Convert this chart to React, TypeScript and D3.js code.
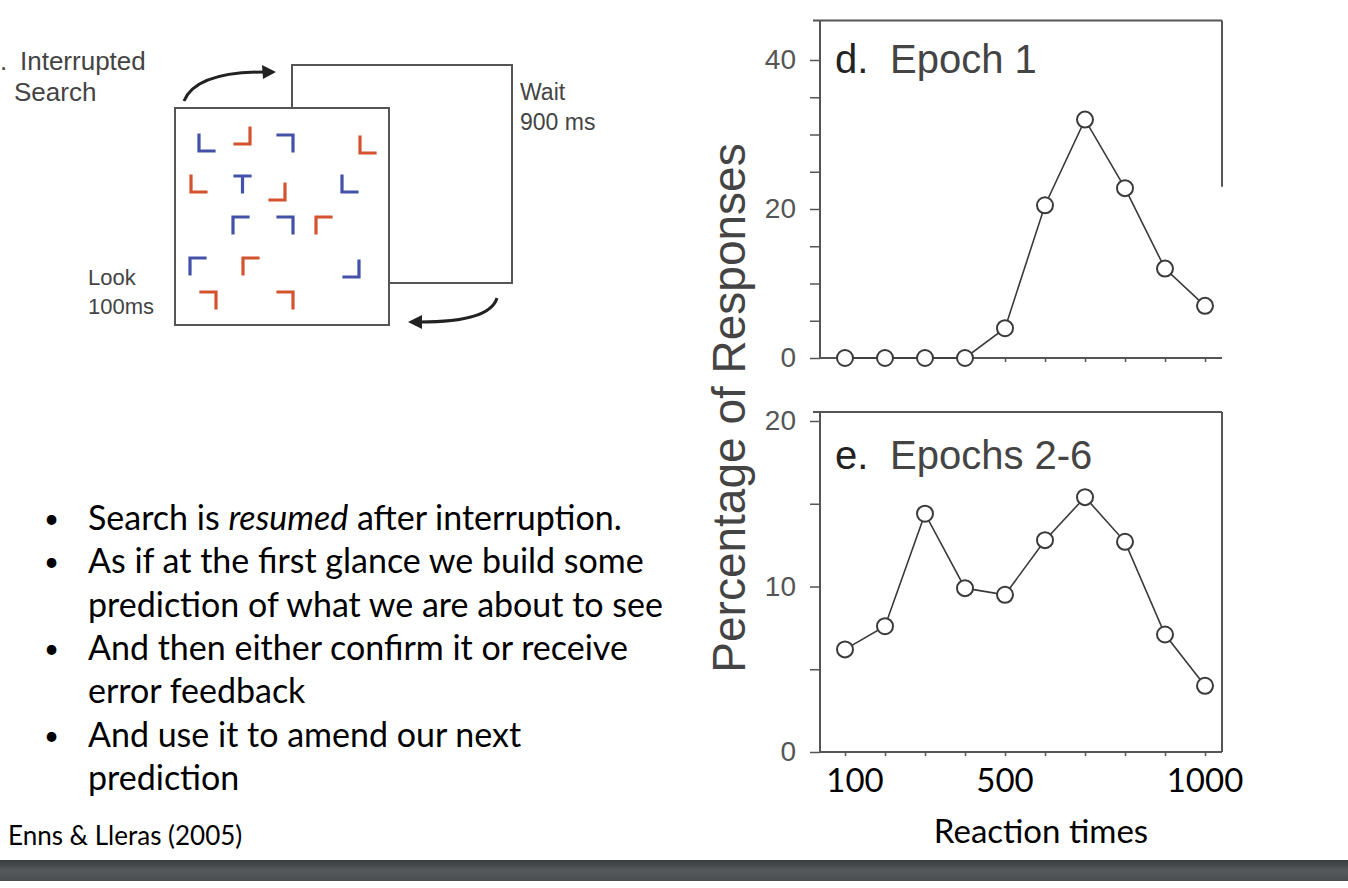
import React, { useRef, useEffect } from 'react';
import * as d3 from 'd3';

// reaction time bins (ms) shared by both panels
const reactionTimes = [100, 200, 300, 400, 500, 600, 700, 800, 900, 1000];
// percentage of responses per bin
const epoch1 = [0, 0, 0, 0, 4, 20.5, 32, 22.8, 12, 7];
const epochs2to6 = [6.2, 7.6, 14.4, 9.9, 9.5, 12.8, 15.4, 12.7, 7.1, 4.0];

const topTicks = [0, 5, 10, 15, 20, 25, 30, 35, 40];
const topTickLabels = [0, 20, 40];
const bottomTicks = [0, 5, 10, 15, 20];
const bottomTickLabels = [0, 10, 20];
const xTickLabels = [100, 500, 1000];

const bulletLines = [
  { bullet: true, parts: [['Search is ', false], ['resumed', true], [' after interruption.', false]] },
  { bullet: true, parts: [['As if at the first glance we build some', false]] },
  { bullet: false, parts: [['prediction of what we are about to see', false]] },
  { bullet: true, parts: [['And then either confirm it or receive', false]] },
  { bullet: false, parts: [['error feedback', false]] },
  { bullet: true, parts: [['And use it to amend our next', false]] },
  { bullet: false, parts: [['prediction', false]] },
];

// search display items: shape, colour, position
const searchItems = [
  { s: 'L', c: 'b', x: 199, y: 135 }, { s: 'J', c: 'r', x: 235, y: 128 },
  { s: '7', c: 'b', x: 278, y: 135 }, { s: 'L', c: 'r', x: 360, y: 137 },
  { s: 'L', c: 'r', x: 191, y: 176 }, { s: 'T', c: 'b', x: 235, y: 176 },
  { s: 'J', c: 'r', x: 270, y: 184 }, { s: 'L', c: 'b', x: 342, y: 176 },
  { s: 'r', c: 'b', x: 233, y: 217 }, { s: '7', c: 'b', x: 278, y: 217 },
  { s: 'r', c: 'r', x: 316, y: 217 },
  { s: 'r', c: 'b', x: 190, y: 258 }, { s: 'r', c: 'r', x: 243, y: 258 },
  { s: 'J', c: 'b', x: 344, y: 261 },
  { s: '7', c: 'r', x: 201, y: 292 }, { s: '7', c: 'r', x: 278, y: 292 },
];

const App: React.FC = () => {
  const svgRef = useRef<SVGSVGElement>(null);

  useEffect(() => {
    if (!svgRef.current) return;
    const svg = d3.select(svgRef.current);
    svg.selectAll('*').remove();

    const ink = '#3a3a3a';
    const chartFont = '"Liberation Sans", Arial, sans-serif';
    const slideFont = 'Lato, "Open Sans", sans-serif';

    svg.append('rect').attr('width', 1348).attr('height', 888).attr('fill', '#fff');

    // ---- bottom bar
    const grad = svg.append('defs').append('linearGradient')
      .attr('id', 'bar').attr('x1', 0).attr('x2', 0).attr('y1', 0).attr('y2', 1);
    grad.append('stop').attr('offset', '0%').attr('stop-color', '#393b3d');
    grad.append('stop').attr('offset', '50%').attr('stop-color', '#55595c');
    grad.append('stop').attr('offset', '100%').attr('stop-color', '#4a4d50');
    svg.append('rect').attr('x', 0).attr('y', 860).attr('width', 1348).attr('height', 21)
      .attr('fill', 'url(#bar)');

    // ---- charts
    const x = d3.scaleLinear().domain([100, 1000]).range([845, 1205]);
    const frameL = 820;
    const frameR = 1222;

    const drawPanel = (
      y: d3.ScaleLinear<number, number>, values: number[], ticks: number[], labels: number[],
      topVal: number, letter: string, title: string, titleY: number, rightEndVal: number
    ) => {
      const g = svg.append('g');
      const stroke = '#555';
      g.append('line').attr('x1', frameL - 7).attr('x2', frameR)
        .attr('y1', y(topVal)).attr('y2', y(topVal)).attr('stroke', stroke).attr('stroke-width', 2);
      g.append('line').attr('x1', frameL).attr('x2', frameL)
        .attr('y1', y(topVal)).attr('y2', y(0)).attr('stroke', stroke).attr('stroke-width', 2);
      g.append('line').attr('x1', frameR).attr('x2', frameR)
        .attr('y1', y(topVal)).attr('y2', y(rightEndVal)).attr('stroke', stroke).attr('stroke-width', 2);
      g.append('line').attr('x1', frameL).attr('x2', frameR)
        .attr('y1', y(0)).attr('y2', y(0)).attr('stroke', stroke).attr('stroke-width', 2);

      const ya = g.append('g').attr('transform', `translate(${frameL},0)`)
        .call(d3.axisLeft(y).tickValues(ticks).tickSize(10).tickPadding(14)
          .tickFormat(d => (labels.includes(+d) ? String(d) : '')));
      ya.select('.domain').remove();
      ya.selectAll('line').attr('stroke', stroke).attr('stroke-width', 1.5);
      ya.selectAll('text').attr('font-family', chartFont).attr('font-size', 28).attr('fill', '#555');

      const xa = g.append('g').attr('transform', `translate(0,${y(0)})`)
        .call(d3.axisBottom(x).tickValues(reactionTimes).tickSize(4).tickFormat(() => ''));
      xa.select('.domain').remove();
      xa.selectAll('line').attr('stroke', stroke).attr('stroke-width', 1.5);

      const line = d3.line<number>().x((_, i) => x(reactionTimes[i])).y(d => y(d));
      g.append('path').datum(values).attr('d', line).attr('fill', 'none')
        .attr('stroke', ink).attr('stroke-width', 1.6);
      g.selectAll('circle').data(values).enter().append('circle')
        .attr('cx', (_, i) => x(reactionTimes[i])).attr('cy', d => y(d)).attr('r', 8)
        .attr('fill', '#fff').attr('stroke', ink).attr('stroke-width', 2);

      g.append('text').attr('x', 835).attr('y', titleY).attr('font-family', chartFont)
        .attr('font-size', 40).attr('fill', '#222').text(letter);
      g.append('text').attr('x', 890).attr('y', titleY).attr('font-family', chartFont)
        .attr('font-size', 40).attr('fill', '#444').text(title);
    };

    const yTop = d3.scaleLinear().domain([0, 40]).range([358, 60]);
    const yBot = d3.scaleLinear().domain([0, 20]).range([752, 421]);
    drawPanel(yTop, epoch1, topTicks, topTickLabels, 45.3, 'd.', 'Epoch 1', 73, 23);
    drawPanel(yBot, epochs2to6, bottomTicks, bottomTickLabels, 20.55, 'e.', 'Epochs 2-6', 469, 0);

    svg.append('text').attr('transform', 'translate(745,408) rotate(-90)')
      .attr('text-anchor', 'middle').attr('font-family', chartFont).attr('font-size', 46)
      .attr('fill', '#444').text('Percentage of Responses');

    svg.selectAll('.xlab').data(xTickLabels).enter().append('text')
      .attr('x', d => x(d) + (d === 100 ? 10 : 0)).attr('y', 792).attr('text-anchor', 'middle')
      .attr('font-family', slideFont).attr('font-size', 33).attr('fill', '#000').text(d => d);
    svg.append('text').attr('x', 1041).attr('y', 843).attr('text-anchor', 'middle')
      .attr('font-family', slideFont).attr('font-size', 33).attr('fill', '#000').text('Reaction times');

    // ---- bullet text
    const bl = svg.append('g').attr('font-family', slideFont).attr('font-size', 34).attr('fill', '#000');
    bulletLines.forEach((ln, i) => {
      const by = 530 + i * 43.3;
      if (ln.bullet) bl.append('text').attr('x', 44).attr('y', by - 2).attr('font-size', 26).text('•');
      const t = bl.append('text').attr('x', 88).attr('y', by);
      ln.parts.forEach(([s, it]) => {
        t.append('tspan').attr('font-style', it ? 'italic' : 'normal').text(s as string);
      });
    });
    svg.append('text').attr('x', 8).attr('y', 845).attr('font-family', slideFont)
      .attr('font-size', 26).attr('fill', '#000').text('Enns & Lleras (2005)');

    // ---- search diagram
    const dg = svg.append('g');
    const boxStroke = '#555';
    dg.append('path').attr('d', 'M292,108 V65 H512 V283 H389').attr('fill', 'none')
      .attr('stroke', boxStroke).attr('stroke-width', 2);
    dg.append('rect').attr('x', 175).attr('y', 108).attr('width', 214).attr('height', 217)
      .attr('fill', '#fff').attr('stroke', boxStroke).attr('stroke-width', 2);

    dg.append('path').attr('d', 'M184,101 Q196,72 264,72').attr('fill', 'none')
      .attr('stroke', '#222').attr('stroke-width', 3);
    dg.append('path').attr('d', 'M276,72 L262,65 L263,79 Z').attr('fill', '#222');
    dg.append('path').attr('d', 'M497,298 Q490,322 420,322').attr('fill', 'none')
      .attr('stroke', '#222').attr('stroke-width', 3);
    dg.append('path').attr('d', 'M408,322 L422,315 L422,329 Z').attr('fill', '#222');

    const dText = (tx: number, ty: number, s: string, size: number) =>
      dg.append('text').attr('x', tx).attr('y', ty).attr('font-family', chartFont)
        .attr('font-size', size).attr('fill', '#444').text(s);
    dText(0, 70, '.', 26);
    dText(20, 70, 'Interrupted', 26);
    dText(14, 101, 'Search', 26);
    dText(520, 100, 'Wait', 23);
    dText(520, 130, '900 ms', 23);
    dText(88, 285, 'Look', 22);
    dText(88, 314, '100ms', 22);

    const w = 15;
    const h = 16;
    const shapePath = (s: string, px: number, py: number) => {
      if (s === 'L') return `M${px},${py} V${py + h} H${px + w}`;
      if (s === 'J') return `M${px + w},${py} V${py + h} H${px}`;
      if (s === '7') return `M${px},${py} H${px + w} V${py + h}`;
      if (s === 'r') return `M${px + w},${py} H${px} V${py + h}`;
      return `M${px},${py} H${px + w} M${px + w / 2},${py} V${py + h}`;
    };
    dg.selectAll('.item').data(searchItems).enter().append('path')
      .attr('d', d => shapePath(d.s, d.x, d.y)).attr('fill', 'none')
      .attr('stroke', d => (d.c === 'b' ? '#4352a8' : '#d4532f'))
      .attr('stroke-width', 3.2).attr('stroke-linecap', 'square');
  }, []);

  return (
    <svg ref={svgRef} width={1348} height={888}
      style={{ position: 'absolute', left: 0, top: 0, display: 'block' }} />
  );
};

export default App;
